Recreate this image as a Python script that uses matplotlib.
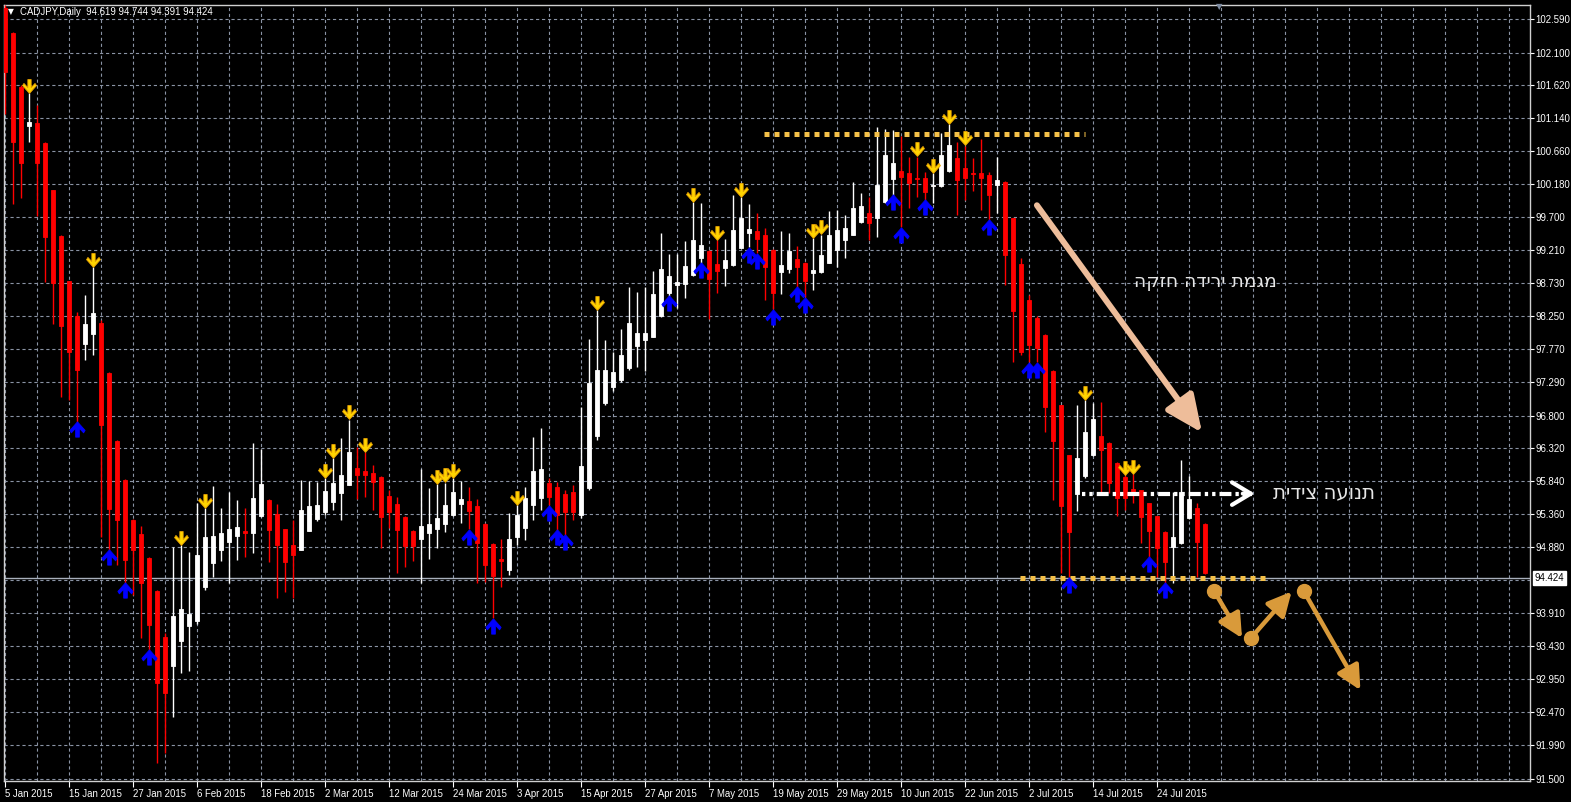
import matplotlib
matplotlib.use("Agg")
import matplotlib.pyplot as plt
import numpy as np
from matplotlib.path import Path
import matplotlib.transforms as mtransforms
from matplotlib import font_manager

plt.rcParams['lines.scale_dashes'] = False
_names = {f.name for f in font_manager.fontManager.ttflist}
if 'Liberation Sans Narrow' in _names:
    UI_FAMILY = ['Liberation Sans Narrow', 'DejaVu Sans']
    UI_SIZE = 8.0
else:
    UI_FAMILY = ['Liberation Sans', 'DejaVu Sans']
    UI_SIZE = 6.9
plt.rcParams['font.family'] = UI_FAMILY

# ---------------- data ----------------
symbol = "CADJPY,Daily"
header_ohlc = [94.619, 94.744, 94.391, 94.424]
last_price = 94.424

opens = [102.75, 102.39, 101.60, 101.03, 101.07, 100.78, 100.09, 99.42, 98.76, 98.25,
         97.84, 97.99, 98.15, 97.42, 96.43, 95.86, 95.28, 95.07, 94.72, 94.24,
         93.57, 93.14, 93.51, 93.73, 93.80, 94.30, 94.65, 94.84, 94.95, 95.04,
         95.12, 95.09, 95.33, 95.57, 95.36, 95.14, 94.91, 94.84, 95.12, 95.29,
         95.39, 95.54, 95.67, 95.79, 96.03, 95.99, 95.96, 95.90, 95.63, 95.51,
         95.32, 95.12, 95.00, 95.09, 95.14, 95.22, 95.35, 95.51, 95.55, 95.48,
         95.22, 94.93, 94.71, 94.55, 95.03, 95.16, 95.50, 95.60, 95.82, 95.76,
         95.65, 95.68, 95.35, 95.74, 96.50, 96.98, 97.22, 97.32, 97.49, 97.82,
         97.90, 97.95, 98.25, 98.59, 98.71, 98.72, 98.85, 99.10, 99.20, 99.01,
         98.95, 99.00, 99.25, 99.47, 99.49, 99.44, 99.22, 98.90, 98.94, 99.09,
         99.03, 98.88, 98.90, 99.03, 99.22, 99.36, 99.44, 99.63, 99.76, 99.68,
         99.92, 100.25, 100.37, 100.34, 100.27, 100.27, 100.15, 100.15, 100.37, 100.56,
         100.41, 100.34, 100.34, 100.31, 100.17, 100.21, 99.68, 99.01, 98.49, 98.22,
         97.98, 97.45, 96.95, 96.22, 95.65, 95.92, 96.22, 96.50, 96.40, 96.11,
         95.90, 95.73, 95.71, 95.52, 95.33, 95.10, 94.88, 94.94, 95.30, 95.45,
         95.22]
highs = [102.79, 102.40, 101.62, 101.51, 101.33, 100.79, 100.10, 99.43, 98.77, 98.31,
         98.56, 98.97, 98.20, 97.43, 96.44, 95.87, 95.29, 95.19, 94.73, 94.25,
         93.63, 94.88, 94.91, 94.81, 95.52, 95.45, 95.77, 95.45, 95.68, 95.57,
         95.45, 96.40, 96.31, 95.58, 95.51, 95.15, 95.28, 95.86, 95.84, 95.83,
         95.89, 96.18, 96.47, 96.74, 96.34, 96.27, 96.08, 95.91, 95.71, 95.61,
         95.33, 95.13, 96.02, 95.74, 95.80, 95.82, 95.89, 95.84, 95.76, 95.58,
         95.23, 94.94, 95.00, 95.38, 95.49, 95.76, 96.49, 96.62, 95.89, 95.83,
         95.71, 95.79, 96.92, 97.92, 98.34, 97.90, 97.73, 98.06, 98.68, 98.60,
         98.68, 98.91, 99.47, 99.16, 99.16, 99.35, 99.92, 99.90, 99.21, 99.36,
         99.38, 100.02, 99.99, 99.89, 99.76, 99.54, 99.23, 99.49, 99.47, 99.27,
         99.04, 99.39, 99.44, 99.79, 99.80, 99.73, 100.21, 100.05, 99.99, 101.01,
         100.98, 100.97, 100.88, 100.58, 100.58, 100.36, 100.34, 100.93, 101.06, 100.79,
         100.74, 100.56, 100.84, 100.36, 100.58, 100.22, 99.69, 99.10, 98.56, 98.25,
         97.99, 97.46, 96.96, 96.23, 96.95, 97.03, 96.98, 97.00, 96.41, 96.12,
         95.93, 95.95, 95.72, 95.53, 95.34, 95.11, 95.68, 96.15, 95.92, 95.52,
         95.23]
lows = [101.20, 99.89, 99.98, 100.79, 99.71, 98.75, 98.14, 97.07, 97.03, 96.71,
        97.61, 97.68, 95.03, 94.84, 94.62, 94.36, 94.18, 93.55, 93.38, 91.73,
        91.87, 92.40, 93.04, 93.07, 93.76, 94.25, 94.44, 94.68, 94.36, 94.69,
        94.74, 94.79, 95.32, 94.66, 94.14, 94.22, 94.14, 94.83, 95.11, 95.26,
        95.35, 95.42, 95.28, 95.78, 95.58, 95.61, 95.42, 94.87, 95.16, 94.50,
        94.59, 94.68, 94.36, 94.71, 94.87, 95.10, 95.34, 95.23, 95.14, 94.36,
        94.37, 93.84, 94.30, 94.47, 94.91, 94.98, 95.28, 95.42, 95.49, 95.13,
        95.06, 95.28, 95.30, 95.71, 96.44, 96.95, 97.16, 97.29, 97.47, 97.51,
        97.45, 97.94, 98.24, 98.55, 98.37, 98.52, 98.84, 99.03, 98.21, 98.59,
        98.69, 98.99, 99.24, 99.26, 99.17, 98.49, 98.35, 98.58, 98.88, 98.68,
        98.53, 98.63, 98.88, 99.02, 98.97, 99.10, 99.43, 99.61, 99.36, 99.41,
        99.91, 100.02, 99.55, 99.83, 99.99, 99.95, 99.90, 100.14, 100.36, 99.73,
        99.95, 100.08, 99.80, 99.66, 99.76, 98.71, 97.58, 97.68, 97.58, 97.58,
        96.56, 95.57, 94.50, 94.44, 95.41, 95.89, 96.21, 95.67, 95.67, 95.33,
        95.42, 95.52, 94.94, 94.74, 94.44, 94.36, 94.36, 94.93, 95.29, 94.44,
        94.48]
closes = [101.82, 100.79, 100.49, 101.09, 100.49, 99.41, 98.74, 98.11, 97.73, 97.47,
          98.14, 98.30, 96.66, 95.44, 95.28, 94.69, 94.84, 94.36, 93.74, 92.90,
          92.75, 93.87, 93.98, 93.90, 94.76, 95.03, 95.04, 95.09, 95.14, 95.17,
          95.09, 95.60, 95.80, 95.13, 94.91, 94.66, 94.76, 95.42, 95.48, 95.50,
          95.70, 95.82, 95.93, 96.27, 95.93, 95.93, 95.83, 95.32, 95.39, 95.13,
          94.90, 94.90, 95.19, 95.22, 95.30, 95.50, 95.68, 95.58, 95.41, 94.94,
          94.62, 94.46, 94.68, 95.00, 95.35, 95.60, 95.99, 96.02, 95.61, 95.35,
          95.39, 95.39, 96.06, 97.28, 97.47, 97.47, 97.44, 97.68, 98.15, 98.00,
          98.00, 98.58, 98.94, 98.84, 98.75, 98.98, 99.36, 99.29, 98.79, 98.91,
          99.07, 99.51, 99.68, 99.52, 99.38, 98.97, 98.59, 99.00, 99.20, 98.97,
          98.77, 98.93, 99.14, 99.44, 99.51, 99.54, 99.83, 99.86, 99.61, 100.17,
          100.60, 100.49, 100.28, 100.20, 100.25, 100.06, 100.17, 100.60, 100.75, 100.24,
          100.27, 100.33, 100.27, 100.02, 100.24, 99.14, 98.33, 97.73, 97.83, 97.79,
          96.93, 96.43, 95.48, 95.10, 96.18, 96.56, 96.75, 96.30, 95.82, 95.60,
          95.60, 95.68, 95.32, 95.12, 94.87, 94.66, 95.03, 95.68, 95.58, 94.95,
          94.50]

date_labels = ['5 Jan 2015', '15 Jan 2015', '27 Jan 2015', '6 Feb 2015', '18 Feb 2015',
               '2 Mar 2015', '12 Mar 2015', '24 Mar 2015', '3 Apr 2015', '15 Apr 2015',
               '27 Apr 2015', '7 May 2015', '19 May 2015', '29 May 2015', '10 Jun 2015',
               '22 Jun 2015', '2 Jul 2015', '14 Jul 2015', '24 Jul 2015']
price_ticks = [102.590, 102.100, 101.620, 101.140, 100.660, 100.180, 99.700, 99.210,
               98.730, 98.250, 97.770, 97.290, 96.800, 96.320, 95.840, 95.360, 94.880,
               93.910, 93.430, 92.950, 92.470, 91.990, 91.500]
hidden_grid_price = 94.400

sell_signal_idx = [3, 11, 22, 25, 40, 41, 43, 45, 54, 55, 56, 64, 74, 86, 89, 92,
                   101, 102, 114, 116, 118, 120, 135, 140, 141]
buy_signal_idx = [9, 13, 15, 18, 58, 61, 68, 69, 70, 83, 87, 93, 94, 96, 99, 100,
                  111, 112, 115, 123, 128, 129, 133, 143, 145]

resistance_level = 100.91
resistance_span = [94.9, 135.0]
support_level = 94.43
support_span = [126.8, 157.5]
sideways_level = 95.66
sideways_span = [134.6, 156.2]
trend_arrow_start = [128.96, 99.87]
trend_arrow_end = [149.6, 96.55]
forecast_starts = [[151.1, 94.24], [155.7, 93.55], [162.3, 94.24]]
forecast_ends = [[154.6, 93.55], [160.8, 94.23], [169.4, 92.79]]

label_trend = "מגמת ירידה חזקה"
label_sideways = "תנועה צידית"

# ---------------- figure ----------------
W, H = 1571, 802
fig = plt.figure(figsize=(W / 100, H / 100), dpi=100, facecolor='black')
ax_l, ax_r, ax_t, ax_b = 4, 1530, 5, 781
ax = fig.add_axes([ax_l / W, 1 - ax_b / H, (ax_r - ax_l) / W, (ax_b - ax_t) / H])
ax.set_facecolor('black')
ax.set_xlim(-0.16, 190.6)
ax.set_ylim(91.464, 102.794)

grid_col = '#8A93A4'
for p in price_ticks + [hidden_grid_price]:
    ax.axhline(p, color=grid_col, lw=0.8, dashes=(2.3, 2.0), zorder=1)
for i in range(0, 191, 4):
    ax.axvline(i, color=grid_col, lw=0.8, dashes=(2.3, 2.0), zorder=1)

# current price line
ax.axhline(last_price, color='#A8AFBB', lw=1.0, zorder=2)

# candles
o = np.array(opens); h = np.array(highs); l = np.array(lows); c = np.array(closes)
x = np.arange(len(o))
bull = c >= o
cols = np.where(bull, '#FFFFFF', '#FF0000')
ax.vlines(x, l, h, colors=cols, lw=1.0, zorder=3)
ax.bar(x, np.abs(c - o), bottom=np.minimum(o, c), width=0.55, color=cols,
       edgecolor=cols, lw=0.6, zorder=4)

# signal arrows
down_verts = [(-0.12, 0.5), (0.12, 0.5), (0.12, -0.08), (0.40, 0.22), (0.5, 0.06),
              (0.0, -0.5), (-0.5, 0.06), (-0.40, 0.22), (-0.12, -0.08), (-0.12, 0.5)]
down_path = Path(down_verts, closed=True)
up_path = Path([(vx, -vy) for vx, vy in down_verts], closed=True)
tr_up = mtransforms.offset_copy(ax.transData, fig=fig, x=0, y=5.2, units='points')
tr_dn = mtransforms.offset_copy(ax.transData, fig=fig, x=0, y=-5.4, units='points')
si = np.array(sell_signal_idx); bi = np.array(buy_signal_idx)
ax.plot(si, h[si], ls='none', marker=down_path, ms=10, mfc='#FFD400', mec='#E8A000',
        mew=0.6, transform=tr_up, zorder=6)
ax.plot(bi, l[bi], ls='none', marker=up_path, ms=11, mfc='#0000FF', mec='#0000FF',
        mew=0.6, transform=tr_dn, zorder=6)

# resistance / support dotted lines
dot_col = '#F4C048'
ax.plot(resistance_span, [resistance_level] * 2, color=dot_col, lw=3.6,
        dashes=(3.6, 3.6), solid_capstyle='butt', dash_capstyle='butt', zorder=5)
ax.plot(support_span, [support_level] * 2, color=dot_col, lw=3.6,
        dashes=(3.6, 3.6), solid_capstyle='butt', dash_capstyle='butt', zorder=5)

# sideways dash-dot arrow
ax.plot([sideways_span[0], sideways_span[1] - 0.4], [sideways_level] * 2, color='white',
        lw=3.0, dashes=(2.4, 2.9, 2.4, 2.9, 8.6, 2.9), dash_capstyle='butt', zorder=7)
ax.annotate('', xy=(sideways_span[1], sideways_level),
            xytext=(sideways_span[1] - 1.5, sideways_level),
            arrowprops=dict(arrowstyle='->,head_length=0.75,head_width=0.45', lw=3.0,
                            color='white', mutation_scale=18, shrinkA=0, shrinkB=0),
            zorder=7)

# strong downtrend arrow
ax.annotate('', xy=tuple(trend_arrow_end), xytext=tuple(trend_arrow_start),
            arrowprops=dict(arrowstyle='-|>,head_length=0.8,head_width=0.36', lw=4.3,
                            color='#EEBD9A', mutation_scale=28, shrinkA=0, shrinkB=0),
            zorder=7)

# forecast zigzag arrows
fc_col = '#D99A3A'
for s, e in zip(forecast_starts, forecast_ends):
    ax.plot([s[0]], [s[1]], marker='o', ms=10, color=fc_col, zorder=8)
    ax.annotate('', xy=tuple(e), xytext=tuple(s),
                arrowprops=dict(arrowstyle='-|>,head_length=0.8,head_width=0.4', lw=3.2,
                                color=fc_col, mutation_scale=18, shrinkA=0, shrinkB=0),
                zorder=8)

# Hebrew labels (reversed for left-to-right rendering)
ax.text(150.0, 98.75, label_trend[::-1], color='#E6E6E6', fontsize=13.5,
        family=['DejaVu Sans'], ha='center', va='center', zorder=9)
ax.text(164.8, 95.68, label_sideways[::-1], color='#E6E6E6', fontsize=14.2,
        family=['DejaVu Sans'], ha='center', va='center', zorder=9)

# axes styling
for sp in ax.spines.values():
    sp.set_color('#D0D0D0')
    sp.set_linewidth(1.0)
ax.yaxis.tick_right()
ax.set_yticks(price_ticks)
ax.set_yticklabels(['%.3f' % p for p in price_ticks])
ax.set_xticks(range(0, 8 * len(date_labels), 8))
ax.set_xticklabels(date_labels)
for lbl in ax.get_xticklabels():
    lbl.set_ha('left')
ax.tick_params(axis='both', colors='white', labelsize=UI_SIZE, length=3, width=0.8, pad=1.0)
ax.tick_params(axis='x', pad=2, length=4)

# current price label
ax.text(1.0030, last_price, '%.3f' % last_price, transform=ax.get_yaxis_transform(),
        ha='left', va='center', fontsize=UI_SIZE, color='black', zorder=10, clip_on=False,
        bbox=dict(boxstyle='square,pad=0.2', fc='white', ec='white'))

# header
fig.text(8 / W, 1 - 12 / H, '▼', color='white', fontsize=5.5, va='center', ha='left',
         family=['DejaVu Sans'])
fig.text(20 / W, 1 - 12 / H, '%s  %.3f %.3f %.3f %.3f' % (symbol, *header_ohlc),
         color='white', fontsize=UI_SIZE, va='center', ha='left')
fig.text(1219 / W, 1 - 7 / H, '▼', color='#7C8AA0', fontsize=6, va='center', ha='center',
         family=['DejaVu Sans'])

fig.savefig('out.png', dpi=100, facecolor='black')
